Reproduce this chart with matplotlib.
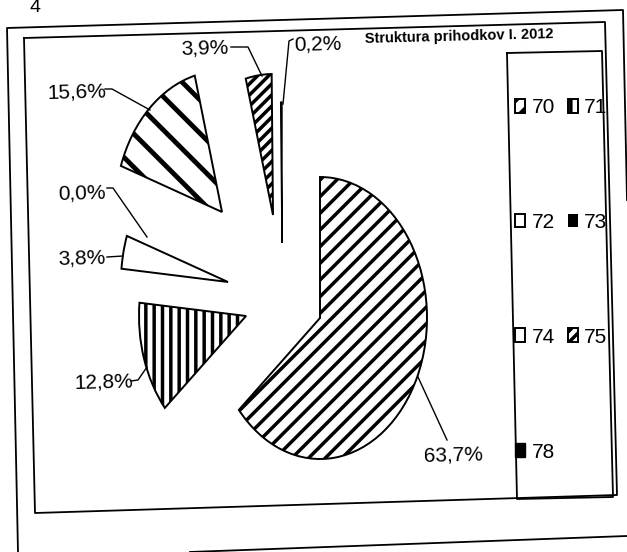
import matplotlib
matplotlib.use("Agg")
import matplotlib.pyplot as plt

# slices, clockwise from 12 o'clock
accounts = ["70", "71", "72", "73", "74", "75", "78"]
shares = [63.7, 12.8, 3.8, 0.0, 15.6, 3.9, 0.2]
pct_labels = ["63,7%", "12,8%", "3,8%", "0,0%", "15,6%", "3,9%", "0,2%"]
title = "Struktura prihodkov I. 2012"

hatches = ["//", "||", "", "", "\\", "///", ""]
faces = ["white", "white", "white", "black", "white", "white", "black"]

W, H = 627, 552
CX, CY = 320, 318   # pie centre, pixels from top-left
RX, RY = 107, 141   # scan squashed the pie sideways
# tip of every dragged-out slice (pixels)
tips = [(320, 318), (246, 316), (228, 282), (228, 282), (222, 212), (273, 215), (282, 243)]
label_xy = [(453, 455), (104, 382), (82, 258), (82, 193), (77, 92), (205, 48), (318, 44)]
leaders = [
    [(447, 440), (418, 377)],
    [(131, 381), (138, 380), (147, 367)],
    [(107, 257), (123, 256)],
    [(107, 188), (113, 188), (147, 237)],
    [(105, 89), (112, 89), (150, 110)],
    [(231, 47), (248, 47), (262, 76)],
    [(293, 39), (289, 41), (283, 104)],
]
ROT = 1.5  # page was scanned a little crooked

plt.rcParams["font.family"] = ["Liberation Sans", "DejaVu Sans"]
plt.rcParams["hatch.linewidth"] = 2.5
plt.rcParams["hatch.color"] = "black"

fig = plt.figure(figsize=(W / 100, H / 100), dpi=100)
ax = fig.add_axes([0, 0, 1, 1])
wedges, _ = ax.pie(shares, startangle=90, counterclock=False, colors=faces,
                   wedgeprops=dict(edgecolor="black", linewidth=1.4))
ax.set_aspect("auto")
ax.set_xlim(-CX / RX, (W - CX) / RX)
ax.set_ylim(-(H - CY) / RY, CY / RY)
for w, h, (tx, ty), v in zip(wedges, hatches, tips, shares):
    w.set_center(((tx - CX) / RX, (CY - ty) / RY))
    w.set_hatch(h)
    if v == 0:
        w.set_linewidth(0)
    elif v < 1:
        w.set_linewidth(1.0)
try:
    wedges[4].set_hatch_linewidth(3.5)
except AttributeError:
    pass

# overlay in pixel coords for the text, leader lines and frames
ov = fig.add_axes([0, 0, 1, 1])
ov.set_xlim(0, W)
ov.set_ylim(H, 0)
ov.axis("off")

for txt, (x, y), pts in zip(pct_labels, label_xy, leaders):
    ov.text(x, y, txt, fontsize=15, ha="center", va="center", rotation=ROT)
    ov.plot([p[0] for p in pts], [p[1] for p in pts], color="black", lw=1.0)

ov.text(459, 37, title, fontsize=10.5, fontweight="bold", ha="center", va="center",
        rotation=ROT)
ov.text(35, -1, "4", fontsize=14, ha="center", va="top")

frames = [
    [(24, 38), (605, 22), (617, 495), (35, 513), (24, 38)],
    [(507, 53), (602, 51), (613, 497), (517, 499), (507, 53)],
    [(18, 552), (7, 28), (623, 10), (627, 200)],
    [(190, 552), (627, 536)],
]
for fr in frames:
    ov.plot([p[0] for p in fr], [p[1] for p in fr], color="black", lw=1.3)

order = [0, 2, 4, 6, 1, 3, 5]
ov.legend([wedges[i] for i in order], [accounts[i] for i in order], ncol=2,
          loc="upper left", bbox_to_anchor=(515, 98), bbox_transform=ov.transData,
          frameon=False, fontsize=15, handlelength=0.5, handleheight=0.65,
          handletextpad=0.3, columnspacing=0.6, labelspacing=4.6,
          borderpad=0, borderaxespad=0)

fig.savefig("out.png", dpi=100)
